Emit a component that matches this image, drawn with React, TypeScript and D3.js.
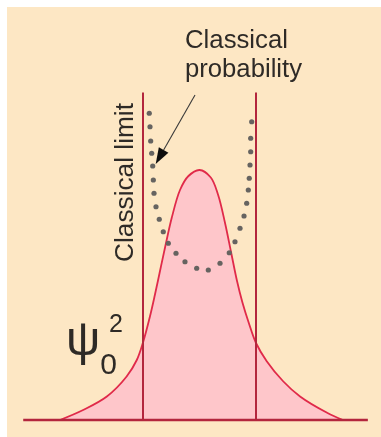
import React from "react";
import * as d3 from "d3";

// Position along the oscillator axis, in units of the classical turning point (±1).
const psiX = [-2.47, -2.06, -1.64, -1.29, -1.11, -1.0, -0.876, -0.79, -0.7, -0.61, -0.49, -0.345, -0.2, 0, 0.2, 0.33, 0.45, 0.56, 0.66, 0.76, 0.87, 1.0, 1.19, 1.48, 1.78, 2.25, 2.54];
// Ground-state probability density ψ0², peak normalised to 1.
const psiY = [0.0, 0.04, 0.094, 0.174, 0.24, 0.31, 0.415, 0.5, 0.595, 0.69, 0.81, 0.92, 0.975, 1.0, 0.97, 0.9, 0.79, 0.67, 0.56, 0.47, 0.39, 0.308, 0.235, 0.155, 0.094, 0.03, 0.0];

// Classical probability density, sampled as a dotted trace.
const classX = [-0.889, -0.876, -0.864, -0.846, -0.828, -0.817, -0.805, -0.77, -0.712, -0.641, -0.552, -0.416, -0.257, -0.05, 0.156, 0.363, 0.527, 0.628, 0.717, 0.788, 0.835, 0.864, 0.881, 0.894, 0.906, 0.906, 0.924];
const classY = [1.227, 1.173, 1.116, 1.067, 1.016, 0.96, 0.907, 0.853, 0.803, 0.753, 0.707, 0.667, 0.633, 0.607, 0.6, 0.627, 0.669, 0.713, 0.767, 0.816, 0.867, 0.92, 0.967, 1.02, 1.073, 1.127, 1.193];

// Classical turning points and the extent of the drawn axis.
const limits = [-1, 1];
const limitTop = 1.31;
const axisExtent = [-3.12, 2.98];

const titleLines = ["Classical", "probability"];
const limitLabel = "Classical limit";
const densityLabel = { symbol: "ψ", sub: "0", sup: "2" };

const W = 381;
const H = 437;

export default function App() {
  const x = d3.scaleLinear().domain([-1, 1]).range([143, 256]);
  const y = d3.scaleLinear().domain([0, 1]).range([420, 170]);

  const pts: [number, number][] = psiX.map((v, i) => [v, psiY[i]]);
  const area = d3
    .area<[number, number]>()
    .x((d) => x(d[0]))
    .y0(y(0))
    .y1((d) => y(d[1]))
    .curve(d3.curveCatmullRom.alpha(0.5));
  const line = d3
    .line<[number, number]>()
    .x((d) => x(d[0]))
    .y((d) => y(d[1]))
    .curve(d3.curveCatmullRom.alpha(0.5));

  const font = "'Liberation Sans', Arial, Helvetica, sans-serif";
  const textColor = "#2e2b28";
  const darkRed = "#b3283c";

  // arrow from the caption to the dotted trace
  const ax0 = 195, ay0 = 95;
  const tipX = x(classX[4]) + 3, tipY = y(classY[4]) - 2;
  const ang = Math.atan2(tipY - ay0, tipX - ax0);
  const hl = 16, hw = 5.5;
  const bx = tipX - hl * Math.cos(ang), by = tipY - hl * Math.sin(ang);
  const head = [
    [tipX, tipY],
    [bx + hw * Math.sin(ang), by - hw * Math.cos(ang)],
    [bx - hw * Math.sin(ang), by + hw * Math.cos(ang)],
  ];

  return (
    <svg
      width={W}
      height={H}
      style={{ position: "absolute", left: 0, top: 0, display: "block" }}
    >
      <defs>
        <filter id="soft" x="-10%" y="-10%" width="120%" height="120%">
          <feGaussianBlur stdDeviation="0.45" />
        </filter>
        <filter id="softText" x="-10%" y="-10%" width="120%" height="120%">
          <feGaussianBlur stdDeviation="0.35" />
        </filter>
      </defs>
      <rect x={0} y={0} width={W} height={H} fill="#ffffff" />
      <rect x={7} y={7} width={W - 7} height={H - 7} fill="#fde7c4" />

      <g filter="url(#soft)">
        <path d={area(pts) ?? ""} fill="#fec6ca" />
        <path d={line(pts) ?? ""} fill="none" stroke="#e02a4a" strokeWidth={1.8} />

        {limits.map((l) => (
          <line
            key={l}
            x1={x(l)}
            x2={x(l)}
            y1={y(limitTop)}
            y2={y(0)}
            stroke={darkRed}
            strokeWidth={2}
          />
        ))}

        <line
          x1={x(axisExtent[0])}
          x2={x(axisExtent[1])}
          y1={y(0)}
          y2={y(0)}
          stroke={darkRed}
          strokeWidth={2.4}
        />

        {classX.map((v, i) => (
          <circle key={i} cx={x(v)} cy={y(classY[i])} r={2.6} fill="#666461" />
        ))}

        <line x1={ax0} y1={ay0} x2={bx} y2={by} stroke="#3a3a3a" strokeWidth={1.1} />
        <polygon points={head.map((p) => p.join(",")).join(" ")} fill="#111" />
      </g>

      <g fill={textColor} fontFamily={font} filter="url(#softText)">
        <text x={185} y={48} fontSize={25} textLength={103} lengthAdjust="spacingAndGlyphs">
          {titleLines[0]}
        </text>
        <text x={185} y={77} fontSize={25} textLength={117} lengthAdjust="spacingAndGlyphs">
          {titleLines[1]}
        </text>
        <text
          transform="translate(133,262) rotate(-90)"
          fontSize={25}
          textLength={159}
          lengthAdjust="spacingAndGlyphs"
        >
          {limitLabel}
        </text>
        <text x={66} y={355} fontSize={48}>
          {densityLabel.symbol}
          <tspan fontSize={30} dy={19}>
            {densityLabel.sub}
          </tspan>
          <tspan fontSize={25} dx={-8} dy={-42}>
            {densityLabel.sup}
          </tspan>
        </text>
      </g>
    </svg>
  );
}
